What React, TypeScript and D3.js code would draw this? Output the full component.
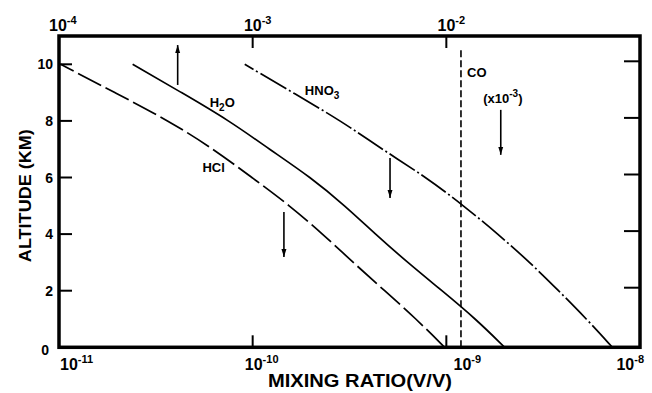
import * as d3 from 'd3';
import { useEffect, useRef } from 'react';

// altitude grid (km) and mixing ratios (V/V)
const altitudes = [0, 1, 2, 3, 4, 5, 6, 7, 8, 9, 10];
const h2oRatio = [2.0e-9, 1.42e-9, 9.5e-10, 6.3e-10, 4.3e-10, 3.0e-10, 2.0e-10, 1.22e-10, 7.6e-11, 4.3e-11, 2.4e-11];
const hclRatio = [9.8e-10, 7.0e-10, 4.8e-10, 3.3e-10, 2.3e-10, 1.56e-10, 9.9e-11, 6.3e-11, 3.7e-11, 1.94e-11, 1.02e-11];
const hno3Ratio = [7.2e-9, 5.3e-9, 3.8e-9, 2.7e-9, 1.85e-9, 1.23e-9, 7.9e-10, 4.65e-10, 2.86e-10, 1.61e-10, 9.1e-11];
const coRatio = 1.19e-9;
const coAltitudes = [0, 10.6];

const bottomTicks = [1e-11, 1e-10, 1e-9, 1e-8];
const bottomExponents = ['-11', '-10', '-9', '-8'];
const topTicks = [1e-4, 1e-3, 1e-2];
const topExponents = ['-4', '-3', '-2'];
const altitudeTicks = [0, 2, 4, 6, 8, 10];

// upper / lower limit arrows: ratio, from km, to km
const arrows = [
  { ratio: 4.1e-11, from: 9.27, to: 10.68 },
  { ratio: 5.12e-10, from: 6.69, to: 5.28 },
  { ratio: 1.91e-9, from: 8.39, to: 6.8 },
  { ratio: 1.45e-10, from: 4.78, to: 3.19 },
];

const curveLabels = [
  { ratio: 6.0e-11, alt: 8.49, parts: [['H', ''], ['2', 'sub'], ['O', '']] },
  { ratio: 5.5e-11, alt: 6.19, parts: [['HCl', '']] },
  { ratio: 1.86e-10, alt: 8.91, parts: [['HNO', ''], ['3', 'sub']] },
  { ratio: 1.28e-9, alt: 9.55, parts: [['CO', '']] },
  { ratio: 1.55e-9, alt: 8.63, parts: [['(x10', ''], ['-3', 'sup'], [')', '']] },
];

const W = 652;
const H = 393;
const FONT = '"Liberation Sans", Arial, sans-serif';

const App = () => {
  const svgRef = useRef<SVGSVGElement>(null);

  useEffect(() => {
    const svg = d3.select(svgRef.current);
    svg.selectAll('*').remove();

    const left = 59, right = 640, top = 36, bottom = 347.3;

    const x = d3.scaleLog().domain([1e-11, 1e-8]).range([left, right]);
    const xTop = d3.scaleLog().domain([1e-4, 1e-1]).range([left, right]);
    const y = d3.scaleLinear().domain([0, 11]).range([bottom, top]);

    svg.append('rect').attr('width', W).attr('height', H).attr('fill', '#fff');

    const defs = svg.append('defs');
    defs
      .append('marker')
      .attr('id', 'head')
      .attr('markerUnits', 'userSpaceOnUse')
      .attr('markerWidth', 9)
      .attr('markerHeight', 6)
      .attr('refX', 8)
      .attr('refY', 3)
      .attr('orient', 'auto')
      .append('path')
      .attr('d', 'M0,0.5 L8,3 L0,5.5 Z')
      .attr('fill', '#000');

    // ticks (inside the frame)
    const tickG = svg.append('g').attr('stroke', '#000').attr('stroke-width', 2);
    tickG
      .selectAll('.lt')
      .data(altitudeTicks.filter((d) => d > 0))
      .join('line')
      .attr('x1', left)
      .attr('x2', left + 13)
      .attr('y1', (d) => y(d))
      .attr('y2', (d) => y(d));
    tickG
      .selectAll('.rt')
      .data(altitudeTicks.filter((d) => d > 0))
      .join('line')
      .attr('x1', right)
      .attr('x2', right - 16)
      .attr('y1', (d) => y(d) - 3)
      .attr('y2', (d) => y(d) - 3);
    tickG
      .selectAll('.bt')
      .data(bottomTicks.slice(1, -1))
      .join('line')
      .attr('x1', (d) => x(d))
      .attr('x2', (d) => x(d))
      .attr('y1', bottom)
      .attr('y2', bottom - 12);
    tickG
      .selectAll('.tt')
      .data(topTicks.slice(1))
      .join('line')
      .attr('x1', (d) => xTop(d))
      .attr('x2', (d) => xTop(d))
      .attr('y1', top)
      .attr('y2', top + 12);

    // curves
    const line = d3
      .line<number>()
      .x((d) => x(d))
      .y((_, i) => y(altitudes[i]))
      .curve(d3.curveBasis);

    const series = [
      { data: h2oRatio, dash: null },
      { data: hclRatio, dash: '26,5' },
      { data: hno3Ratio, dash: '30,3,2,3' },
    ];
    svg
      .selectAll('.curve')
      .data(series)
      .join('path')
      .attr('class', 'curve')
      .attr('d', (s) => line(s.data))
      .attr('fill', 'none')
      .attr('stroke', '#000')
      .attr('stroke-width', 1.7)
      .attr('stroke-dasharray', (s) => s.dash);

    svg
      .append('line')
      .attr('x1', x(coRatio))
      .attr('x2', x(coRatio))
      .attr('y1', y(coAltitudes[0]))
      .attr('y2', y(coAltitudes[1]))
      .attr('stroke', '#000')
      .attr('stroke-width', 1.6)
      .attr('stroke-dasharray', '7,3');

    // arrows
    svg
      .selectAll('.arrow')
      .data(arrows)
      .join('line')
      .attr('class', 'arrow')
      .attr('x1', (d) => x(d.ratio))
      .attr('x2', (d) => x(d.ratio))
      .attr('y1', (d) => y(d.from))
      .attr('y2', (d) => y(d.to))
      .attr('stroke', '#000')
      .attr('stroke-width', 1.6)
      .attr('marker-end', 'url(#head)');

    // frame
    svg
      .append('rect')
      .attr('x', left)
      .attr('y', top)
      .attr('width', right - left)
      .attr('height', bottom - top)
      .attr('fill', 'none')
      .attr('stroke', '#000')
      .attr('stroke-width', 3.5);

    const text = svg.append('g').attr('font-family', FONT).attr('font-weight', 'bold').attr('fill', '#000');

    // y tick labels
    text
      .selectAll('.yl')
      .data(altitudeTicks)
      .join('text')
      .attr('x', (d) => (d === 0 ? 49 : 53))
      .attr('y', (d) => y(d) + (d === 0 ? 8 : 5))
      .attr('text-anchor', 'end')
      .attr('font-size', 14)
      .text((d) => d);

    // log labels with superscripts
    const powerLabel = (
      ticks: number[],
      exps: string[],
      scale: d3.ScaleLogarithmic<number, number>,
      baseline: number,
      shift: (i: number) => [number, string]
    ) => {
      ticks.forEach((t, i) => {
        const [dx, anchor] = shift(i);
        const el = text
          .append('text')
          .attr('x', scale(t) + dx)
          .attr('y', baseline)
          .attr('text-anchor', anchor)
          .attr('font-size', 16);
        el.append('tspan').text('10');
        el.append('tspan').attr('dy', -7).attr('font-size', 11).text(exps[i]);
      });
    };
    powerLabel(bottomTicks, bottomExponents, x, 370, (i) =>
      i === 0 ? [1, 'start'] : i === bottomTicks.length - 1 ? [4, 'end'] : [i === 1 ? 9 : 21, 'middle']
    );
    powerLabel(topTicks, topExponents, xTop, 31, (i) => (i === 0 ? [-10, 'start'] : [5, 'middle']));

    // curve labels
    curveLabels.forEach((l) => {
      const el = text
        .append('text')
        .attr('x', x(l.ratio))
        .attr('y', y(l.alt))
        .attr('font-size', 13);
      let shift = 0;
      l.parts.forEach(([s, kind]) => {
        const dy = kind === 'sub' ? 4 : kind === 'sup' ? -6 : 0;
        el.append('tspan')
          .attr('dy', dy - shift)
          .attr('font-size', kind ? 10 : 13)
          .text(s);
        shift = dy;
      });
    });

    // axis titles
    text
      .append('text')
      .attr('transform', `translate(31,${(top + bottom) / 2 + 4}) rotate(-90)`)
      .attr('text-anchor', 'middle')
      .attr('font-size', 17)
      .attr('textLength', 133)
      .attr('lengthAdjust', 'spacingAndGlyphs')
      .text('ALTITUDE (KM)');
    text
      .append('text')
      .attr('x', 360)
      .attr('y', 387)
      .attr('text-anchor', 'middle')
      .attr('font-size', 18)
      .attr('textLength', 184)
      .attr('lengthAdjust', 'spacingAndGlyphs')
      .text('MIXING RATIO(V/V)');
  }, []);

  return (
    <svg
      ref={svgRef}
      width={W}
      height={H}
      style={{ position: 'absolute', left: 0, top: 0, display: 'block' }}
    ></svg>
  );
};

export default App;
